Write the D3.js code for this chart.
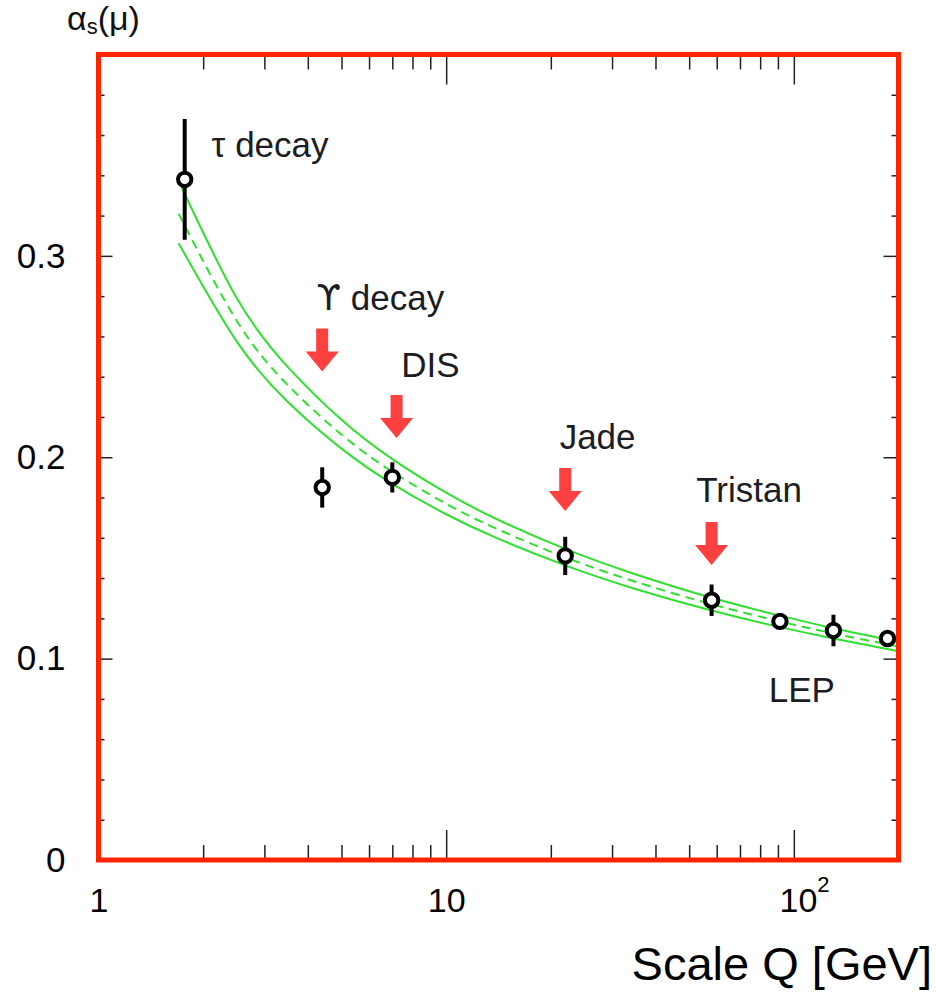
<!DOCTYPE html>
<html>
  <head>
    <script src="https://cdnjs.cloudflare.com/ajax/libs/d3/7.8.5/d3.min.js"></script>
    <style>
      body {
        margin: 0;
        background: #ffffff;
      }
      text {
        font-family: "Liberation Sans", Arial, Helvetica, sans-serif;
      }
    </style>
  </head>
  <body>
    <div id="chart"></div>
    <script>
      // running coupling band
      const bandQ = [1.7, 2.5, 3.5, 5, 7, 10, 14, 22, 35, 58, 90, 130, 200];
      const bandUpper = [0.3373, 0.2789, 0.2449, 0.2186, 0.1991, 0.1824, 0.1692, 0.1545, 0.1419, 0.1302, 0.1216, 0.1151, 0.1084];
      const bandCentral = [0.321, 0.2677, 0.2359, 0.2112, 0.1928, 0.1769, 0.1644, 0.1503, 0.1382, 0.127, 0.1187, 0.1125, 0.106];
      const bandLower = [0.3063, 0.2574, 0.2276, 0.2043, 0.1868, 0.1717, 0.1598, 0.1463, 0.1346, 0.1239, 0.1159, 0.11, 0.1037];

      // measurements
      const pointQ = [1.77, 4.4, 7.0, 22, 58, 91.2, 130, 186];
      const pointAlpha = [0.338, 0.185, 0.19, 0.151, 0.129, 0.1185, 0.114, 0.11];
      const pointErr = [0.03, 0.01, 0.0075, 0.0095, 0.0078, 0.003, 0.0078, 0.003];

      // arrows (tip position) and labels
      const arrowQ = [4.4, 7.2, 22, 58];
      const arrowTip = [0.2426, 0.2095, 0.1733, 0.1465];
      const labelText = ["τ decay", "ϒ decay", "DIS", "Jade", "Tristan", "LEP"];
      const labelQ = [2.115, 4.24, 7.43, 21.2, 52.4, 84.7];
      const labelAlpha = [0.349, 0.273, 0.24, 0.204, 0.1777, 0.0787];

      // axis ticks
      const xMajor = [1, 10, 100];
      const xMajorLabels = ["1", "10", "10^2"];
      const yMajor = [0, 0.1, 0.2, 0.3];
      const yMajorLabels = ["0", "0.1", "0.2", "0.3"];

      const width = 936;
      const height = 994;
      const mLeft = 98.5, mRight = 898.5, mTop = 54.5, mBottom = 860;

      const svg = d3.select("#chart").append("svg")
        .attr("width", width)
        .attr("height", height);

      svg.append("rect").attr("width", width).attr("height", height).attr("fill", "#fff");

      const x = d3.scaleLog().domain([1, 200]).range([mLeft, mRight]);
      const y = d3.scaleLinear().domain([0, 0.4]).range([mBottom, mTop]);

      svg.append("defs").append("clipPath").attr("id", "plot")
        .append("rect")
        .attr("x", mLeft).attr("y", mTop)
        .attr("width", mRight - mLeft).attr("height", mBottom - mTop);

      // ticks
      const xMinor = x.ticks().filter(d => !xMajor.includes(d) && d < 200);
      const yMinor = d3.range(1, 20).map(i => +(i * 0.02).toFixed(2)).filter(d => !yMajor.includes(d));

      function tickGroup(axis, tx, ty) {
        const g = svg.append("g").attr("transform", `translate(${tx},${ty})`).call(axis);
        g.select(".domain").remove();
        g.selectAll("line").attr("stroke", "#222").attr("stroke-width", 1.5);
        return g;
      }

      tickGroup(d3.axisBottom(x).tickValues(xMinor).tickSizeInner(-15).tickSizeOuter(0).tickFormat(""), 0, mBottom);
      tickGroup(d3.axisTop(x).tickValues(xMinor).tickSizeInner(-15).tickSizeOuter(0).tickFormat(""), 0, mTop);
      tickGroup(d3.axisTop(x).tickValues([10, 100]).tickSizeInner(-30).tickSizeOuter(0).tickFormat(""), 0, mTop);
      tickGroup(d3.axisLeft(y).tickValues(yMinor).tickSizeInner(-6).tickSizeOuter(0).tickFormat(""), mLeft, 0);
      tickGroup(d3.axisRight(y).tickValues(yMinor).tickSizeInner(-7).tickSizeOuter(0).tickFormat(""), mRight, 0);
      tickGroup(d3.axisRight(y).tickValues(yMajor).tickSizeInner(-15).tickSizeOuter(0).tickFormat(""), mRight, 0);

      const xAxis = tickGroup(
        d3.axisBottom(x).tickValues(xMajor).tickSizeInner(-30).tickSizeOuter(0).tickPadding(28)
          .tickFormat((d, i) => xMajorLabels[i]),
        0, mBottom);
      xAxis.selectAll("text")
        .attr("font-size", 34)
        .attr("font-family", "'Liberation Sans', Arial, sans-serif")
        .attr("fill", "#000")
        .each(function (d, i) {
          const lab = xMajorLabels[i];
          if (lab.includes("^")) {
            const [base, exp] = lab.split("^");
            const t = d3.select(this).text(null);
            t.append("tspan").text(base);
            t.append("tspan").attr("font-size", 22).attr("dy", "-0.9em").text(exp);
            t.attr("dx", "0.3em");
          }
        });

      const yAxis = tickGroup(
        d3.axisLeft(y).tickValues(yMajor).tickSizeInner(-14).tickSizeOuter(0).tickPadding(33)
          .tickFormat((d, i) => yMajorLabels[i]),
        mLeft, 0);
      yAxis.selectAll("text")
        .attr("font-size", 35)
        .attr("font-family", "'Liberation Sans', Arial, sans-serif")
        .attr("fill", "#000");

      // band
      const plot = svg.append("g").attr("clip-path", "url(#plot)");
      const line = d3.line().x(d => x(d[0])).y(d => y(d[1])).curve(d3.curveNatural);
      const green = "#2fe02f";

      [bandUpper, bandLower].forEach(vals => {
        plot.append("path")
          .attr("d", line(bandQ.map((q, i) => [q, vals[i]])))
          .attr("fill", "none").attr("stroke", green).attr("stroke-width", 2);
      });
      plot.append("path")
        .attr("d", line(bandQ.map((q, i) => [q, bandCentral[i]])))
        .attr("fill", "none").attr("stroke", green).attr("stroke-width", 2)
        .attr("stroke-dasharray", "9,6");

      // error bars + points
      const pts = pointQ.map((q, i) => ({ q: q, a: pointAlpha[i], e: pointErr[i] }));
      plot.selectAll(".err").data(pts).enter().append("line")
        .attr("x1", d => x(d.q)).attr("x2", d => x(d.q))
        .attr("y1", d => y(d.a + d.e)).attr("y2", d => y(d.a - d.e))
        .attr("stroke", "#000").attr("stroke-width", 4);
      plot.selectAll(".pt").data(pts).enter().append("circle")
        .attr("cx", d => x(d.q)).attr("cy", d => y(d.a))
        .attr("r", 6.7)
        .attr("fill", "#fff").attr("stroke", "#000").attr("stroke-width", 4);

      // arrows
      const arrows = arrowQ.map((q, i) => ({ q: q, a: arrowTip[i] }));
      svg.selectAll(".arrow").data(arrows).enter().append("path")
        .attr("d", d => {
          const cx = x(d.q), ty = y(d.a);
          const sw = 6, hw = 16.5, hh = 20, len = 43;
          return `M${cx - sw},${ty - len} L${cx + sw},${ty - len} L${cx + sw},${ty - hh} L${cx + hw},${ty - hh}` +
            ` L${cx},${ty} L${cx - hw},${ty - hh} L${cx - sw},${ty - hh} Z`;
        })
        .attr("fill", "#ff4040");

      // labels (upsilon glyph taken from DejaVu, Liberation has no hooked form)
      svg.selectAll(".lab").data(labelText).enter().append("text")
        .attr("x", (d, i) => x(labelQ[i]))
        .attr("y", (d, i) => y(labelAlpha[i]))
        .attr("font-size", 35)
        .attr("fill", "#1c1c24")
        .each(function (d) {
          const t = d3.select(this);
          if (d.startsWith("ϒ")) {
            t.append("tspan").attr("font-family", "'DejaVu Sans', sans-serif").text("ϒ");
            t.append("tspan").text(d.slice(1));
          } else {
            t.text(d);
          }
        });

      // frame
      svg.append("rect")
        .attr("x", mLeft).attr("y", mTop)
        .attr("width", mRight - mLeft).attr("height", mBottom - mTop)
        .attr("fill", "none").attr("stroke", "#ff2400").attr("stroke-width", 5);

      // axis titles
      const yt = svg.append("text").attr("x", 67).attr("y", 30).attr("font-size", 34).attr("fill", "#111");
      yt.append("tspan").text("α");
      yt.append("tspan").attr("font-size", 22).attr("dy", 4).text("s");
      yt.append("tspan").attr("dy", -4).text("(μ)");

      svg.append("text")
        .attr("x", 932).attr("y", 980)
        .attr("text-anchor", "end")
        .attr("font-size", 47)
        .attr("fill", "#000")
        .text("Scale Q [GeV]");
    </script>
  </body>
</html>
